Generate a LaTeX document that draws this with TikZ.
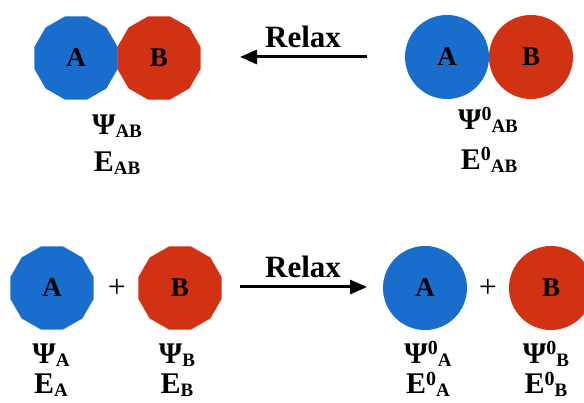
\documentclass[tikz,border=0pt]{standalone}
\usepackage{fontspec}
\setmainfont{Liberation Serif}
\usetikzlibrary{shapes.geometric,arrows.meta}
\definecolor{ablue}{RGB}{25,110,205}
\definecolor{bred}{RGB}{210,50,20}
\newcommand\lowsub[1]{\raisebox{-3pt}{\fontsize{19}{19}\selectfont #1}}
\newcommand\upsup[1]{\raisebox{9pt}{\fontsize{20}{20}\selectfont #1}}
\begin{document}
\begin{tikzpicture}[x=1pt,y=-1pt,
 atom/.style={circle, minimum size=84pt, inner sep=0pt, font=\fontsize{27}{27}\selectfont\bfseries},
 poly/.style={regular polygon, regular polygon sides=12, minimum size=86pt, inner sep=0pt, font=\fontsize{27}{27}\selectfont\bfseries},
 lab/.style={anchor=base, inner sep=0pt, font=\fontsize{30}{30}\selectfont\bfseries},
 relax/.style={anchor=base, inner sep=0pt, font=\fontsize{31}{31}\selectfont\bfseries},
 arr/.style={line width=3pt, -{Triangle[length=17pt,width=14pt]}},
 plus/.style={inner sep=0pt, font=\fontsize{32}{32}\selectfont}]
\fill[white] (0,0) rectangle (584,403);
\useasboundingbox (0,0) rectangle (584,403);
% top row
\node[poly, fill=ablue] (tlA) at (76,58) {A};
\node[poly, fill=bred] (tlB) at (159,58) {B};
\node[atom, fill=ablue] (trA) at (447,57) {A};
\node[atom, fill=bred] (trB) at (531,57) {B};
\node[relax] (relaxT) at (303,48) {Relax};
\coordinate (arTs) at (367,57);
\coordinate (arTe) at (240,57);
\draw[arr] (arTs) -- (arTe);
\node[lab] (psiAB) at (117,135) {Ψ\lowsub{AB}};
\node[lab] (eAB) at (117,172) {E\lowsub{AB}};
\node[lab] (psi0AB) at (488,130) {Ψ\upsup{0}\lowsub{AB}};
\node[lab] (e0AB) at (489,170) {E\upsup{0}\lowsub{AB}};
% bottom row
\node[poly, fill=ablue] (blA) at (52,288) {A};
\node[poly, fill=bred] (blB) at (180,288) {B};
\node[plus] (plusL) at (117,288) {+};
\node[atom, fill=ablue] (brA) at (425,288) {A};
\node[atom, fill=bred] (brB) at (551,288) {B};
\node[plus] (plusR) at (488,288) {+};
\node[relax] (relaxB) at (303,278) {Relax};
\coordinate (arBs) at (240,287);
\coordinate (arBe) at (367,287);
\draw[arr] (arBs) -- (arBe);
\node[lab] (psiA) at (51,363) {Ψ\lowsub{A}};
\node[lab] (eA) at (51,394) {E\lowsub{A}};
\node[lab] (psiB) at (177,363) {Ψ\lowsub{B}};
\node[lab] (eB) at (177,394) {E\lowsub{B}};
\node[lab] (psi0A) at (428,363) {Ψ\upsup{0}\lowsub{A}};
\node[lab] (e0A) at (428,394) {E\upsup{0}\lowsub{A}};
\node[lab] (psi0B) at (546,363) {Ψ\upsup{0}\lowsub{B}};
\node[lab] (e0B) at (546,394) {E\upsup{0}\lowsub{B}};
\end{tikzpicture}
\end{document}
